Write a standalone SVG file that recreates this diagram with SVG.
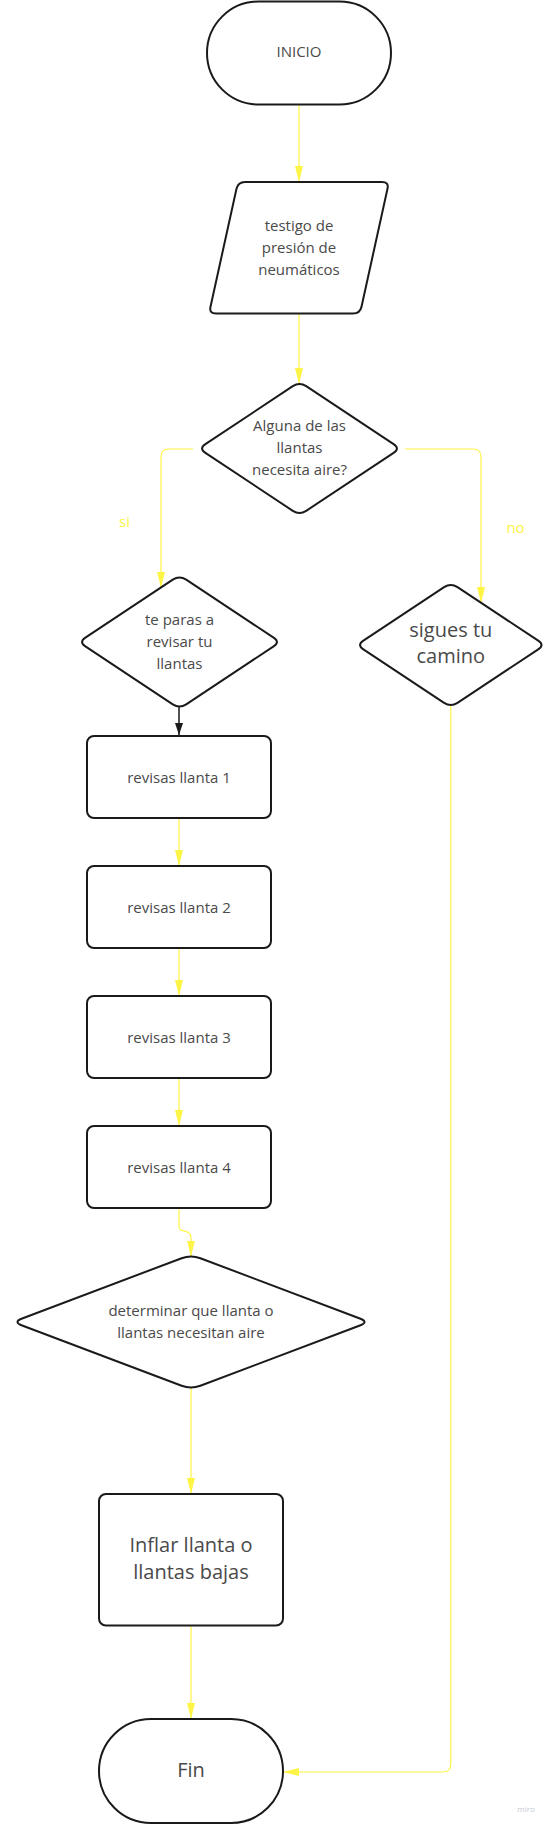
<svg xmlns="http://www.w3.org/2000/svg" width="548" height="1824" viewBox="0 0 548 1824">
<style>
.n{fill:#ffffff;stroke:#1a1a1a;stroke-width:2;stroke-linejoin:round}
.t{font-family:"Open Sans","Liberation Sans",sans-serif;fill:#4a4a4a;text-anchor:middle;font-size:15px}
.b{font-size:20px}
.c{fill:none;stroke:#fef445;stroke-width:1.2}
.k{fill:none;stroke:#1a1a1a;stroke-width:1.5}
.lab{font-family:"Open Sans","Liberation Sans",sans-serif;fill:#fef445;text-anchor:middle;font-size:15px}
</style>
<defs>
<marker id="ay" markerUnits="userSpaceOnUse" markerWidth="17" markerHeight="9" refX="16" refY="4.5" orient="auto"><path d="M0,0.5 L16,4.5 L0,8.5 Z" fill="#fef445"/></marker>
<marker id="ak" markerUnits="userSpaceOnUse" markerWidth="13" markerHeight="9" refX="12" refY="4.5" orient="auto"><path d="M0,0.5 L12,4.5 L0,8.5 Z" fill="#1a1a1a"/></marker>
</defs>
<rect width="548" height="1824" fill="#ffffff"/>
<g id="connectors">
<path class="c" d="M299,105 V182" marker-end="url(#ay)"/>
<path class="c" d="M299,314 V384" marker-end="url(#ay)"/>
<path class="c" d="M193,449 H169 Q161,449 161,457 V588" marker-end="url(#ay)"/>
<path class="c" d="M405,449 H473 Q481,449 481,457 V603" marker-end="url(#ay)"/>
<path class="k" d="M179,707 V735" marker-end="url(#ak)"/>
<path class="c" d="M179,818 V866" marker-end="url(#ay)"/>
<path class="c" d="M179,948 V996" marker-end="url(#ay)"/>
<path class="c" d="M179,1078 V1126" marker-end="url(#ay)"/>
<path class="c" d="M179,1208 V1226 C179,1234 191,1228 191,1238 V1256.5" marker-end="url(#ay)"/>
<path class="c" d="M191,1388 V1494" marker-end="url(#ay)"/>
<path class="c" d="M191,1626 V1719" marker-end="url(#ay)"/>
<path class="c" d="M450.8,705 V1764 Q450.8,1772 442.8,1772 H283" marker-end="url(#ay)"/>
<text class="lab" x="124.5" y="527">si</text>
<text class="lab" x="515.5" y="533">no</text>
</g>
<g id="inicio">
<rect class="n" x="207" y="1.5" width="184" height="103" rx="51.5"/>
<text class="t" x="299" y="56.5">INICIO</text>
</g>
<g id="testigo">
<path class="n" d="M245,182 H382 Q389,182 387.5,188.8 L361.5,306.7 Q360,313.5 353,313.5 H216 Q209,313.5 210.5,306.7 L236.5,188.8 Q238,182 245,182 Z"/>
<text class="t" x="299" y="230.5">testigo de</text>
<text class="t" x="299" y="252.5">presión de</text>
<text class="t" x="299" y="274.5">neumáticos</text>
</g>
<g id="alguna">
<path class="n" d="M292.8,386.2 Q299.5,381.8 306.2,386.2 L393.6,444.1 Q400.3,448.5 393.6,452.9 L306.2,510.8 Q299.5,515.2 292.8,510.8 L205.4,452.9 Q198.7,448.5 205.4,444.1 Z"/>
<text class="t" x="299.5" y="430.5">Alguna de las</text>
<text class="t" x="299.5" y="452.5">llantas</text>
<text class="t" x="299.5" y="474.5">necesita aire?</text>
</g>
<g id="teparas">
<path class="n" d="M172.8,579.7 Q179.5,575.3 186.2,579.7 L273.6,637.6 Q280.3,642 273.6,646.4 L186.2,704.3 Q179.5,708.7 172.8,704.3 L85.4,646.4 Q78.7,642 85.4,637.6 Z"/>
<text class="t" x="179.5" y="624.5">te paras a</text>
<text class="t" x="179.5" y="646.5">revisar tu</text>
<text class="t" x="179.5" y="668.5">llantas</text>
</g>
<g id="sigues">
<path class="n" d="M444.1,587.2 Q450.8,582.8 457.5,587.2 L538.2,640.6 Q544.9,645 538.2,649.4 L457.5,702.8 Q450.8,707.2 444.1,702.8 L363.4,649.4 Q356.7,645 363.4,640.6 Z"/>
<text class="t b" x="450.8" y="637">sigues tu</text>
<text class="t b" x="450.8" y="663">camino</text>
</g>
<g id="llanta1">
<rect class="n" x="87" y="736" width="184" height="82" rx="7"/>
<text class="t" x="179" y="782.5">revisas llanta 1</text>
</g>
<g id="llanta2">
<rect class="n" x="87" y="866" width="184" height="82" rx="7"/>
<text class="t" x="179" y="912.5">revisas llanta 2</text>
</g>
<g id="llanta3">
<rect class="n" x="87" y="996" width="184" height="82" rx="7"/>
<text class="t" x="179" y="1042.5">revisas llanta 3</text>
</g>
<g id="llanta4">
<rect class="n" x="87" y="1126" width="184" height="82" rx="7"/>
<text class="t" x="179" y="1172.5">revisas llanta 4</text>
</g>
<g id="determinar">
<path class="n" d="M181.65,1258.2 Q191,1254.7 200.35,1258.2 L359.85,1318.5 Q369.2,1322 359.85,1325.5 L200.35,1385.8 Q191,1389.3 181.65,1385.8 L22.15,1325.5 Q12.8,1322 22.15,1318.5 Z"/>
<text class="t" x="191" y="1315.5">determinar que llanta o</text>
<text class="t" x="191" y="1337.5">llantas necesitan aire</text>
</g>
<g id="inflar">
<rect class="n" x="99" y="1494" width="184" height="131.5" rx="7"/>
<text class="t b" x="191" y="1552">Inflar llanta o</text>
<text class="t b" x="191" y="1579">llantas bajas</text>
</g>
<g id="fin">
<rect class="n" x="99" y="1719" width="184" height="104" rx="52"/>
<text class="t b" x="191" y="1777">Fin</text>
</g>
<text x="526" y="1812" font-family="'Open Sans','Liberation Sans',sans-serif" font-size="8" fill="#c8c8d4" text-anchor="middle">miro</text>
</svg>
